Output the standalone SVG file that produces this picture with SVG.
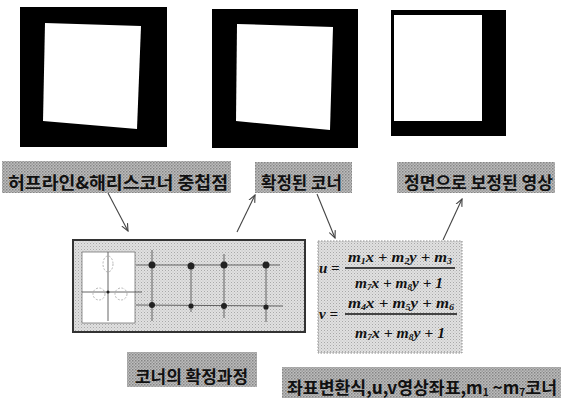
<svg xmlns="http://www.w3.org/2000/svg" width="565" height="398" viewBox="0 0 565 398">
<style>
.lbl{fill:url(#ht)}
.kt{font-family:"Noto Sans CJK KR","Noto Sans",sans-serif;font-weight:bold;font-size:17px;fill:#111}
.eq{font-family:"Liberation Serif",serif;font-weight:bold;font-style:italic;font-size:15px;fill:#111}
.sub{font-size:9px}
.conn{stroke:#444;stroke-width:1.1;fill:none}
.grid{stroke:#555;stroke-width:0.9;fill:none}
.dot{fill:#222}
</style>
<defs>
<pattern id="ht" width="3" height="3" patternUnits="userSpaceOnUse">
<rect width="3" height="3" fill="#bdbdbd"/>
<rect width="1.5" height="1.5" fill="#858585"/>
<rect x="1.5" y="1.5" width="1.5" height="1.5" fill="#9c9c9c"/>
</pattern>
<pattern id="lt" width="3" height="3" patternUnits="userSpaceOnUse">
<rect width="3" height="3" fill="#e0e0e0"/>
<rect width="1" height="1" fill="#a8a8a8"/>
<rect x="1.5" y="1.5" width="1" height="1" fill="#bcbcbc"/>
</pattern>
<marker id="ah" viewBox="0 0 10 10" refX="9" refY="5" markerWidth="8" markerHeight="8" orient="auto" markerUnits="userSpaceOnUse">
<path d="M0,1 L9,5 L0,9" fill="none" stroke="#444" stroke-width="1.4"/>
</marker>
</defs>
<rect width="565" height="398" fill="#fff"/>

<g id="img1">
<rect x="20" y="7" width="147" height="140" fill="#000"/>
<polygon points="45,23 141,26 137,129 43,121" fill="#fff"/>
</g>
<g id="img2">
<rect x="212" y="9" width="146" height="139" fill="#000"/>
<polygon points="237,24 333,27 330,130 236,121" fill="#fff"/>
</g>
<g id="img3">
<rect x="391" y="10" width="115" height="126" fill="#000"/>
<rect x="394" y="15" width="88" height="106" fill="#fff"/>
</g>

<g id="label-hough">
<rect class="lbl" x="2" y="161" width="229" height="32"/>
<text class="kt" x="8" y="189" textLength="220" lengthAdjust="spacingAndGlyphs">허프라인&amp;해리스코너 중첩점</text>
</g>
<g id="label-confirmed">
<rect class="lbl" x="255" y="162" width="97" height="31"/>
<text class="kt" x="261" y="189" textLength="81" lengthAdjust="spacingAndGlyphs">확정된 코너</text>
</g>
<g id="label-front">
<rect class="lbl" x="397" y="162" width="158" height="31"/>
<text class="kt" x="404" y="189" textLength="149" lengthAdjust="spacingAndGlyphs">정면으로 보정된 영상</text>
</g>

<g id="process">
<rect x="73" y="240" width="232" height="92" fill="url(#lt)" stroke="#333" stroke-width="2"/>
<rect x="82" y="252" width="53" height="71" fill="#fff" stroke="#777" stroke-width="0.8"/>
<line class="grid" x1="108" y1="252" x2="108" y2="321"/>
<line class="grid" x1="82" y1="292" x2="142" y2="292"/>
<ellipse cx="108" cy="264" rx="5" ry="8" fill="none" stroke="#999" stroke-width="0.7" stroke-dasharray="2,1.5"/>
<circle cx="99" cy="294" r="6" fill="none" stroke="#999" stroke-width="0.7" stroke-dasharray="2,1.5"/>
<circle cx="121" cy="294" r="6" fill="none" stroke="#999" stroke-width="0.7" stroke-dasharray="2,1.5"/>
<circle class="dot" cx="108" cy="292" r="1.5"/>
<line class="grid" x1="136" y1="265" x2="280" y2="265"/>
<line class="grid" x1="136" y1="305" x2="283" y2="306"/>
<line class="grid" x1="152" y1="250" x2="152" y2="321"/>
<line class="grid" x1="191" y1="262" x2="191" y2="312"/>
<line class="grid" x1="224" y1="254" x2="224" y2="318"/>
<line class="grid" x1="266" y1="262" x2="266" y2="322"/>
<circle class="dot" cx="152" cy="265" r="3.5"/>
<circle class="dot" cx="191" cy="266" r="3.5"/>
<circle class="dot" cx="224" cy="265" r="3.5"/>
<circle class="dot" cx="266" cy="265" r="3.5"/>
<circle class="dot" cx="152" cy="305" r="3"/>
<circle class="dot" cx="191" cy="306" r="2.6"/>
<circle class="dot" cx="224" cy="306" r="3"/>
<circle class="dot" cx="266" cy="307" r="2.6"/>
</g>

<g id="formula">
<rect x="318" y="241" width="144" height="112" fill="url(#lt)" stroke="#888" stroke-width="1" stroke-dasharray="1.5,1.5"/>
<text class="eq" x="319" y="273">u =</text>
<text class="eq" x="348" y="262" textLength="104" lengthAdjust="spacingAndGlyphs">m<tspan class="sub" dy="2">1</tspan><tspan dy="-2">x + m</tspan><tspan class="sub" dy="2">2</tspan><tspan dy="-2">y + m</tspan><tspan class="sub" dy="2">3</tspan></text>
<line x1="345" y1="268" x2="455" y2="268" stroke="#111" stroke-width="1.3"/>
<text class="eq" x="355" y="288" textLength="88" lengthAdjust="spacingAndGlyphs">m<tspan class="sub" dy="2">7</tspan><tspan dy="-2">x + m</tspan><tspan class="sub" dy="2">8</tspan><tspan dy="-2">y + 1</tspan></text>
<text class="eq" x="319" y="319">v =</text>
<text class="eq" x="348" y="308" textLength="106" lengthAdjust="spacingAndGlyphs">m<tspan class="sub" dy="2">4</tspan><tspan dy="-2">x + m</tspan><tspan class="sub" dy="2">5</tspan><tspan dy="-2">y + m</tspan><tspan class="sub" dy="2">6</tspan></text>
<line x1="345" y1="314" x2="457" y2="314" stroke="#111" stroke-width="1.3"/>
<text class="eq" x="355" y="338" textLength="90" lengthAdjust="spacingAndGlyphs">m<tspan class="sub" dy="2">7</tspan><tspan dy="-2">x + m</tspan><tspan class="sub" dy="2">8</tspan><tspan dy="-2">y + 1</tspan></text>
</g>

<g id="label-process">
<rect class="lbl" x="127" y="352" width="130" height="35"/>
<text class="kt" x="135" y="383" textLength="113" lengthAdjust="spacingAndGlyphs">코너의 확정과정</text>
</g>
<g id="label-transform">
<rect class="lbl" x="282" y="367" width="279" height="31"/>
<text class="kt" x="287" y="394" textLength="270" lengthAdjust="spacingAndGlyphs">좌표변환식,u,v영상좌표,m<tspan font-size="10" dy="2">1</tspan><tspan dy="-2"> ~m</tspan><tspan font-size="10" dy="2">7</tspan><tspan dy="-2">코너</tspan></text>
</g>

<g id="connectors">
<line class="conn" x1="108" y1="193" x2="128" y2="231" marker-end="url(#ah)"/>
<line class="conn" x1="237" y1="232" x2="255" y2="195" marker-end="url(#ah)"/>
<line class="conn" x1="317" y1="194" x2="335" y2="238" marker-end="url(#ah)"/>
<line class="conn" x1="443" y1="240" x2="462" y2="199" marker-end="url(#ah)"/>
</g>
</svg>
